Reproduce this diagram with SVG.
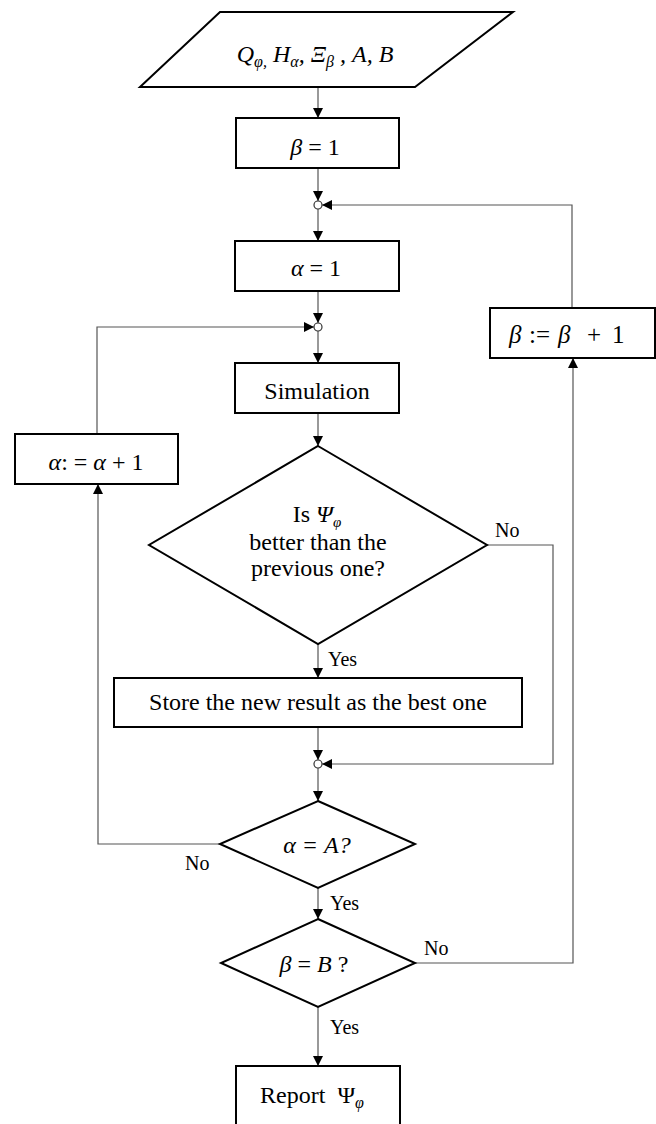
<svg xmlns="http://www.w3.org/2000/svg" width="656" height="1124" viewBox="0 0 656 1124">
<style>
.box{fill:#fff;stroke:#000;stroke-width:2}
.con{fill:none;stroke:#555;stroke-width:1.2}
.jn{fill:#fff;stroke:#333;stroke-width:1.2}
.t{font-family:'Liberation Serif','Times New Roman',Times,Tinos,serif;font-size:24px;fill:#000;text-anchor:middle}
.s{font-family:'Liberation Serif','Times New Roman',Times,Tinos,serif;font-size:25px;fill:#000}
.i{font-style:italic}
.lbl{font-family:'Liberation Serif','Times New Roman',Times,Tinos,serif;font-size:20px;fill:#000}
</style>
<defs>
<marker id="ah" viewBox="0 0 10 10" refX="10" refY="5" markerWidth="10" markerHeight="10" markerUnits="userSpaceOnUse" orient="auto">
<path d="M0,0 L10,5 L0,10 Z" fill="#000"/>
</marker>
</defs>
<rect width="656" height="1124" fill="#fff"/>
<g id="connectors">
<path class="con" d="M318,87 V118" marker-end="url(#ah)"/>
<path class="con" d="M318,168 V201" marker-end="url(#ah)"/>
<path class="con" d="M572,308 V205 H322" marker-end="url(#ah)"/>
<path class="con" d="M318,209 V241" marker-end="url(#ah)"/>
<path class="con" d="M318,291 V323" marker-end="url(#ah)"/>
<path class="con" d="M97,434 V327 H314" marker-end="url(#ah)"/>
<path class="con" d="M318,331 V363" marker-end="url(#ah)"/>
<path class="con" d="M318,413 V446" marker-end="url(#ah)"/>
<path class="con" d="M487,545 H553 V764 H322" marker-end="url(#ah)"/>
<path class="con" d="M318,644 V678" marker-end="url(#ah)"/>
<path class="con" d="M318,727 V760" marker-end="url(#ah)"/>
<path class="con" d="M318,768 V801" marker-end="url(#ah)"/>
<path class="con" d="M220,844 H98 V484" marker-end="url(#ah)"/>
<path class="con" d="M318,888 V919" marker-end="url(#ah)"/>
<path class="con" d="M415,963 H573 V358" marker-end="url(#ah)"/>
<path class="con" d="M318,1007 V1066" marker-end="url(#ah)"/>
<circle class="jn" cx="318" cy="205" r="4"/>
<circle class="jn" cx="318" cy="327" r="4"/>
<circle class="jn" cx="318" cy="764" r="4"/>
<text class="lbl" x="495" y="537">No</text>
<text class="lbl" x="328" y="666">Yes</text>
<text class="lbl" x="185" y="870">No</text>
<text class="lbl" x="330" y="910">Yes</text>
<text class="lbl" x="424" y="955">No</text>
<text class="lbl" x="330" y="1034">Yes</text>
</g>
<g id="input">
<polygon class="box" points="220,12 513,12 415,87 140,87"/>
<text class="t i" x="315" y="62" font-size="26">Q<tspan font-size="16" dy="5">φ,</tspan><tspan dy="-5"> H</tspan><tspan font-size="16" dy="5">α</tspan><tspan dy="-5">, Ξ</tspan><tspan font-size="16" dy="5">β</tspan><tspan dy="-5"> , A, B</tspan></text>
</g>
<g id="beta-init">
<rect class="box" x="236" y="118" width="163" height="50"/>
<text class="t" x="315" y="155" font-size="25"><tspan class="i">β</tspan> = 1</text>
</g>
<g id="alpha-init">
<rect class="box" x="235" y="241" width="164" height="50"/>
<text class="t" x="316" y="276" font-size="25"><tspan class="i">α</tspan> = 1</text>
</g>
<g id="simulation">
<rect class="box" x="235" y="363" width="164" height="50"/>
<text class="t" x="317" y="399" font-size="25.5">Simulation</text>
</g>
<g id="alpha-inc">
<rect class="box" x="15" y="434" width="163" height="50"/>
<text class="t" x="96" y="470" font-size="25.5"><tspan class="i">α</tspan>: = <tspan class="i">α</tspan> + 1</text>
</g>
<g id="beta-inc">
<rect class="box" x="490" y="308" width="165" height="50"/>
<text class="s"><tspan class="i" x="509" y="343">β</tspan><tspan x="529" y="343">:=</tspan><tspan class="i" x="558" y="343">β</tspan><tspan x="587" y="343">+</tspan><tspan x="612" y="343">1</tspan></text>
</g>
<g id="decision-better">
<polygon class="box" points="318,446 487,545 318,644 149,545"/>
<text class="t" x="317" y="522">Is <tspan class="i">Ψ</tspan><tspan class="i" font-size="15" dy="5">φ</tspan></text>
<text class="t" x="318" y="550">better than the</text>
<text class="t" x="318" y="576">previous one?</text>
</g>
<g id="store">
<rect class="box" x="114" y="678" width="408" height="49"/>
<text class="t" x="318" y="710" font-size="23.5">Store the new result as the best one</text>
</g>
<g id="decision-alpha">
<polygon class="box" points="318,801 415,844 318,888 220,844"/>
<text class="t i" x="317" y="853" font-size="25">α = A?</text>
</g>
<g id="decision-beta">
<polygon class="box" points="318,919 415,963 318,1007 221,963"/>
<text class="t" x="314" y="972" font-size="25"><tspan class="i">β</tspan> = <tspan class="i">B</tspan> ?</text>
</g>
<g id="report">
<rect class="box" x="236" y="1066" width="164" height="80"/>
<text class="t" x="312" y="1103" font-size="25">Report <tspan dx="6">Ψ</tspan><tspan class="i" font-size="16" dy="5">φ</tspan></text>
</g>
</svg>
